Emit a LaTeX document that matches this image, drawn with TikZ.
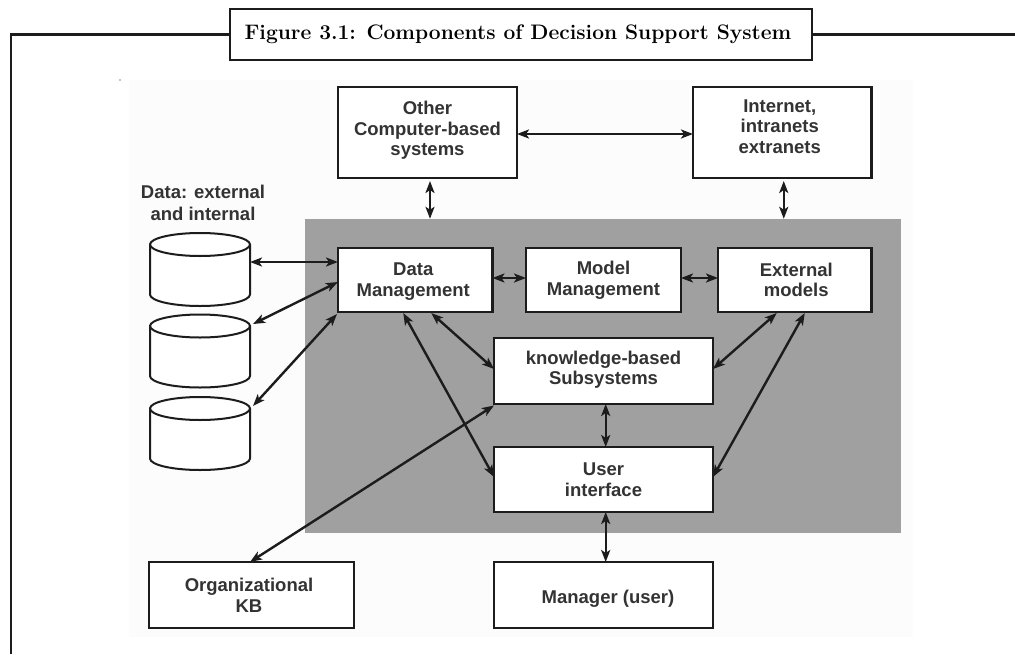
\documentclass[tikz,border=0pt]{standalone}
\usepackage{fontspec}
\setsansfont{Liberation Sans}
\usetikzlibrary{positioning}
\usetikzlibrary{arrows.meta}
\definecolor{ink}{HTML}{1C1C1C}
\definecolor{word}{HTML}{333333}
\definecolor{panelgrey}{HTML}{A0A0A0}
\definecolor{backdrop}{HTML}{FCFCFC}
\newcommand{\nudge}[4]{\vbox{\vskip #2\hbox{\hspace*{#1}\begin{tabular}{@{}c@{}}#4\end{tabular}}\vskip #3}}
\tikzset{
	block/.style={draw=ink,line width=2.4pt,fill=white,inner sep=0pt,outer sep=0pt,text=word,
		font=\sffamily\bfseries\fontsize{18.5}{20.5}\selectfont},
	drum/.style={minimum width=100pt,minimum height=73pt,inner sep=0pt,outer sep=0pt},
	link/.style={{Stealth[length=12pt,width=9pt,inset=3pt]}-{Stealth[length=12pt,width=9pt,inset=3pt]},draw=ink,line width=2.4pt},
}
\begin{document}
\begin{tikzpicture}[x=1pt,y=-1pt]
	\useasboundingbox (0,0) rectangle (1015,654);

	% backgrounds
	\node[fill=backdrop,minimum width=784pt,minimum height=557pt,inner sep=0pt] (backdrop) at (521,358.5) {};
	\node[fill=panelgrey,minimum width=596pt,minimum height=314pt,inner sep=0pt] (core) at (603,376) {};
	\node[fill=black,circle,inner sep=0.4pt] (speck) at (120,80) {};

	% title and frame
	\node[draw=ink,line width=2.4pt,fill=white,minimum width=582pt,minimum height=51pt,inner sep=0pt,
		font=\bfseries\fontsize{21}{24}\selectfont] (title) at (521,34.5) {\nudge{-6pt}{0pt}{0pt}{Figure 3.1: Components of Decision Support System}};
	\coordinate (frameleft) at (11,654);
	\coordinate (frameright) at (1015,35);
	\draw[ink,line width=2.4pt] (title.west) -- (title.west -| frameleft) -- (frameleft);
	\draw[ink,line width=2.4pt] (title.east) -- (title.east -| frameright);

	% top row
	\node[block,minimum width=179pt,minimum height=91pt] (other) at (427.5,132.5) {\nudge{0pt}{0pt}{3pt}{Other\\Computer-based\\systems}};
	\node[block,minimum width=178.5pt,minimum height=91pt] (internet) at (782.25,132.5) {\nudge{-5pt}{0pt}{8pt}{Internet,\\intranets\\extranets}};

	% middle row
	\node[block,minimum width=154.5pt,minimum height=64pt] (data) at (415.25,280) {\nudge{-4pt}{4pt}{0pt}{Data\\Management}};
	\node[block,minimum width=155pt,minimum height=64pt] (model) at (603.5,280) {\nudge{0pt}{2pt}{0pt}{Model\\Management}};
	\node[block,minimum width=153.5pt,minimum height=64pt] (external) at (794.75,280) {\nudge{3pt}{5pt}{0pt}{External\\models}};

	% lower boxes
	\node[block,minimum width=219pt,minimum height=66pt] (knowledge) at (603.5,371) {\nudge{0pt}{0pt}{1pt}{knowledge-based\\Subsystems}};
	\node[block,minimum width=219pt,minimum height=65pt] (user) at (603.5,479.5) {\nudge{0pt}{5pt}{0pt}{User\\interface}};
	\node[block,minimum width=219pt,minimum height=66pt] (manager) at (603.5,595) {\nudge{9pt}{8pt}{0pt}{Manager (user)}};
	\node[block,minimum width=205pt,minimum height=66pt] (org) at (251.5,595) {\nudge{-5pt}{6pt}{0pt}{Organizational\\KB}};

	% data stores
	\node[font=\sffamily\bfseries\fontsize{18.5}{21.5}\selectfont,text=word,align=center,inner sep=0pt] (storelabel) at (203,203) {Data: external\\and internal};
	\node[drum] (store0) at (200,269.5) {};
	\node[drum] (store1) at (200,351) {};
	\node[drum] (store2) at (200,433.5) {};
	\foreach \s in {store0,store1,store2} {
		\draw[ink,line width=2pt,fill=white] ([yshift=-11.5pt]\s.north west)
			arc[x radius=50pt,y radius=11.5pt,start angle=180,end angle=0]
			-- ([yshift=11.5pt]\s.south east)
			arc[x radius=50pt,y radius=11.5pt,start angle=0,end angle=-180] -- cycle;
		\draw[ink,line width=2pt] ([yshift=-11.5pt]\s.north west)
			arc[x radius=50pt,y radius=11.5pt,start angle=180,end angle=360];
	}

	% connectors top
	\draw[link] ([yshift=-1.5pt]other.east) -- ([yshift=-1.5pt]internet.west);
	\draw[link] ([xshift=2.5pt,yshift=-3pt]other.south) -- ([xshift=2.5pt]other.south |- core.north);
	\draw[link] ([xshift=1.5pt,yshift=-3pt]internet.south) -- ([xshift=1.5pt]internet.south |- core.north);

	% connectors stores -> data
	\draw[link] ([yshift=18pt]data.west) -- ([yshift=18pt]data.west -| store0.east);
	\draw[link] ([yshift=-2pt]data.west) -- ([xshift=3pt,yshift=27pt]store1.east);
	\draw[link] ([xshift=-1pt,yshift=-2pt]data.south west) -- ([xshift=3pt,yshift=27.5pt]store2.east);

	% connectors middle row
	\draw[link] ([yshift=2pt]data.east) -- ([yshift=2pt]model.west);
	\draw[link] ([yshift=2pt]model.east) -- ([yshift=2pt]external.west);

	% connectors diagonal
	\draw[link] ([xshift=16pt,yshift=-1pt]data.south) -- ([yshift=2pt]knowledge.west);
	\draw[link] ([xshift=-12pt,yshift=-1pt]data.south) -- ([yshift=2.5pt]user.west);
	\draw[link] ([xshift=-18pt,yshift=-1pt]external.south) -- ([yshift=2pt]knowledge.east);
	\draw[link] ([xshift=10pt,yshift=-1pt]external.south) -- ([yshift=2.5pt]user.east);
	\draw[link] ([xshift=-1.5pt]org.north) -- ([yshift=-1.5pt]knowledge.south west);

	% connectors vertical
	\draw[link] ([xshift=2.2pt]knowledge.south) -- ([xshift=2.2pt]user.north);
	\draw[link] ([xshift=2.2pt]user.south) -- ([xshift=2.2pt]manager.north);
\end{tikzpicture}
\end{document}
